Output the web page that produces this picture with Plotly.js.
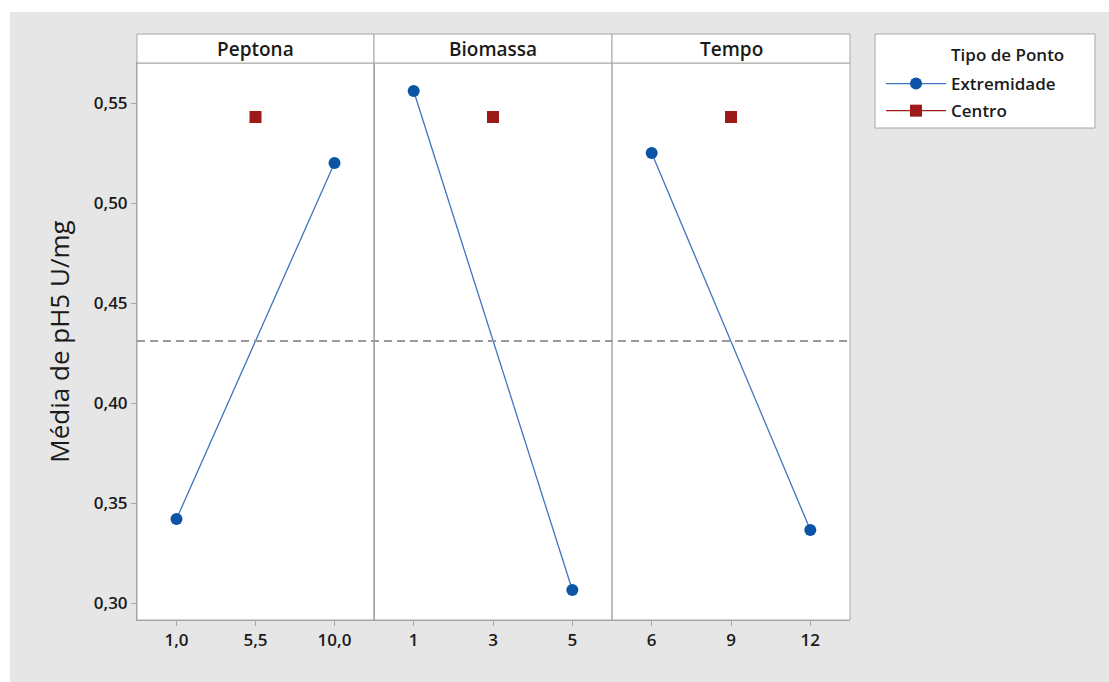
<!DOCTYPE html>
<html>
<head>
<meta charset="utf-8">
<script src="https://cdn.plot.ly/plotly-3.0.1.min.js"></script>
<style>
  html, body { margin: 0; padding: 0; background: #ffffff; }
  #chart { position: absolute; left: 10px; top: 12px; width: 1099px; height: 670px; }
</style>
</head>
<body>
<div id="chart"></div>
<script>
// Main effects of each factor on the mean pH5 activity (U/mg)
const factors = ['Peptona', 'Biomassa', 'Tempo'];

const peptonaLevels = ['1,0', '5,5', '10,0'];
const biomassaLevels = ['1', '3', '5'];
const tempoLevels = ['6', '9', '12'];

// Extreme (corner) points: low and high level means
const peptonaExtremes = [0.342, 0.520];
const biomassaExtremes = [0.556, 0.3065];
const tempoExtremes = [0.525, 0.3365];

// Centre point mean (same run set for all factors)
const centreValue = [0.543];

// Grand mean reference line
const grandMean = 0.431;

const legendTitle = 'Tipo de Ponto';

const levels = [peptonaLevels, biomassaLevels, tempoLevels];
const extremes = [peptonaExtremes, biomassaExtremes, tempoExtremes];

const blueLine = '#3f74c0';
const blueMarker = '#0b54a6';
const redColor = '#9c1a1a';
const frameColor = '#a6a6a6';
const fontFamily = '"Open Sans", "Noto Sans", sans-serif';

const traces = [];
factors.forEach((f, i) => {
  const ax = i === 0 ? '' : String(i + 1);
  const lv = levels[i];
  traces.push({
    type: 'scatter', mode: 'lines+markers',
    x: [lv[0], lv[2]], y: extremes[i],
    xaxis: 'x' + ax, yaxis: 'y',
    name: 'Extremidade', legendgroup: 'ext', showlegend: i === 0,
    line: { color: blueLine, width: 1.3 },
    marker: { color: blueMarker, size: 12, symbol: 'circle' },
    hoverinfo: 'x+y'
  });
  traces.push({
    type: 'scatter', mode: 'lines+markers',
    x: [lv[1]], y: centreValue,
    xaxis: 'x' + ax, yaxis: 'y',
    name: 'Centro', legendgroup: 'ctr', showlegend: i === 0,
    line: { color: redColor, width: 1.3 },
    marker: { color: redColor, size: 12, symbol: 'square' },
    hoverinfo: 'x+y'
  });
});

const domains = [[0, 0.3324], [0.3324, 0.6662], [0.6662, 1]];
const stripTop = 1.052;

const layout = {
  width: 1099, height: 670,
  paper_bgcolor: '#e6e6e6',
  plot_bgcolor: '#ffffff',
  margin: { l: 127, r: 259, t: 51, b: 62 },
  font: { family: fontFamily, color: '#1a1a1a', size: 15 },
  separators: ',.',
  showlegend: true,
  legend: {
    x: 1.0435, y: 0.9946, xanchor: 'left', yanchor: 'top',
    bgcolor: 'rgba(0,0,0,0)', borderwidth: 0,
    font: { family: fontFamily, size: 17, color: '#1a1a1a', weight: 600 },
    itemwidth: 60, tracegroupgap: 2
  },
  yaxis: {
    range: [0.2915, 0.57],
    tickvals: [0.30, 0.35, 0.40, 0.45, 0.50, 0.55],
    tickformat: '.2f',
    ticks: 'outside', ticklen: 5, tickcolor: frameColor,
    tickfont: { family: fontFamily, size: 17, weight: 600, color: '#1a1a1a' },
    showgrid: false, zeroline: false,
    showline: true, linecolor: frameColor, mirror: true,
    title: { text: 'Média de pH5 U/mg', font: { family: fontFamily, size: 26, color: '#1a1a1a', weight: 500 }, standoff: 16 },
    fixedrange: true
  },
  shapes: [
    // legend frame
    {
      type: 'rect', xref: 'paper', yref: 'paper',
      x0: 1.0351, x1: 1.3436, y0: 0.8833, y1: 1.0521,
      fillcolor: '#ffffff', line: { color: frameColor, width: 1 }, layer: 'below'
    }
  ],
  annotations: [
    {
      xref: 'paper', yref: 'paper', x: 1.139, y: 1.0144,
      xanchor: 'left', yanchor: 'middle', showarrow: false,
      text: legendTitle,
      font: { family: fontFamily, size: 17, color: '#1a1a1a', weight: 600 }
    }
  ]
};

factors.forEach((f, i) => {
  const key = i === 0 ? 'xaxis' : 'xaxis' + (i + 1);
  layout[key] = {
    domain: domains[i], anchor: 'y',
    type: 'category', categoryorder: 'array', categoryarray: levels[i],
    range: [-0.5, 2.5],
    ticks: 'outside', ticklen: 5, tickcolor: frameColor,
    tickfont: { family: fontFamily, size: 17, weight: 600, color: '#1a1a1a' },
    showgrid: false, zeroline: false,
    showline: true, linecolor: frameColor, mirror: true,
    fixedrange: true
  };
  // panel frame
  layout.shapes.push({
    type: 'rect', xref: 'paper', yref: 'paper',
    x0: domains[i][0], x1: domains[i][1], y0: 0, y1: 1,
    line: { color: frameColor, width: 1 }, layer: 'above'
  });
  // strip header box with the factor name
  layout.shapes.push({
    type: 'rect', xref: 'paper', yref: 'paper',
    x0: domains[i][0], x1: domains[i][1], y0: 1, y1: stripTop,
    fillcolor: '#ffffff', line: { color: frameColor, width: 1 }
  });
  layout.annotations.push({
    xref: 'paper', yref: 'paper',
    x: (domains[i][0] + domains[i][1]) / 2, y: (1 + stripTop) / 2,
    text: f, showarrow: false,
    font: { family: fontFamily, size: 19, color: '#1a1a1a', weight: 600 },
    xanchor: 'center', yanchor: 'middle'
  });
});

// grand mean dashed reference across all panels
layout.shapes.push({
  type: 'line', xref: 'paper', yref: 'y',
  x0: 0, x1: 1, y0: grandMean, y1: grandMean,
  line: { color: '#9a9a9a', width: 2, dash: '8px,5px' },
  layer: 'above'
});

Plotly.newPlot('chart', traces, layout, { displayModeBar: false, staticPlot: true });
</script>
</body>
</html>
